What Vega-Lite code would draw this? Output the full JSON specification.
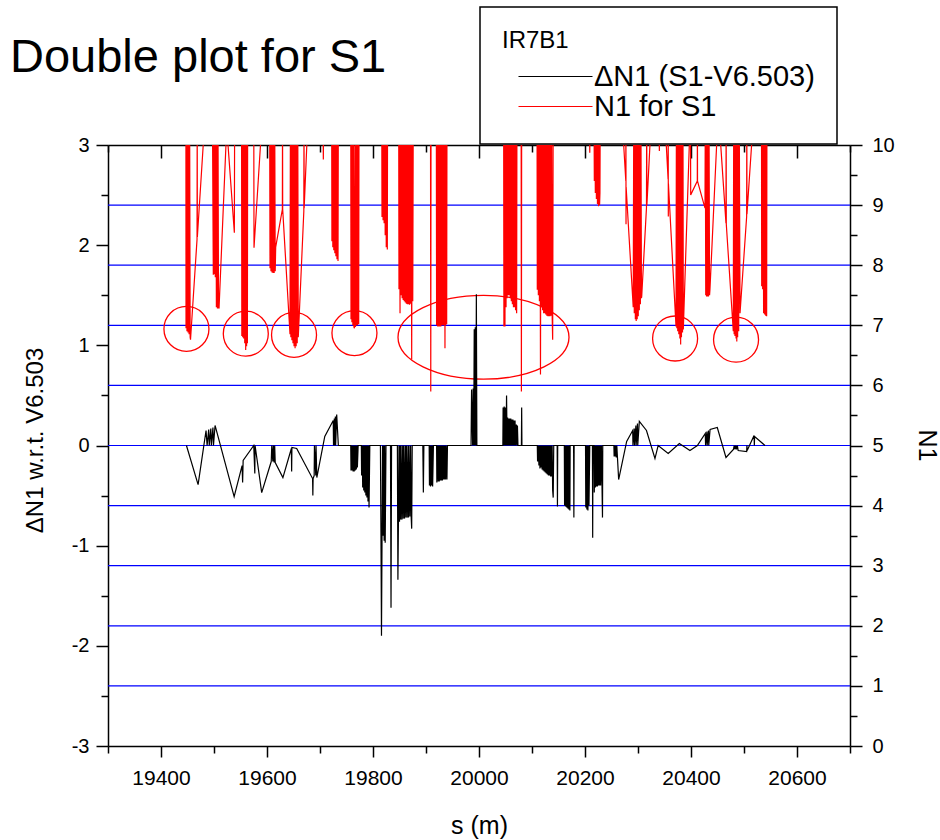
{
  "$schema": "https://vega.github.io/schema/vega-lite/v6.json",
  "width": 742,
  "height": 601,
  "autosize": {"type": "none"},
  "padding": {"left": 108, "top": 145, "right": 90, "bottom": 94},
  "background": "white",
  "title": {"text": "Double plot for S1", "anchor": "start", "frame": "group", "orient": "top", "offset": 0, "dx": -98, "dy": 113, "baseline": "alphabetic", "fontSize": 47, "fontWeight": "normal", "font": "Liberation Sans", "color": "black"},
  "datasets": {
    "gridlines": [{"n": 1}, {"n": 2}, {"n": 3}, {"n": 4}, {"n": 5}, {"n": 6}, {"n": 7}, {"n": 8}, {"n": 9}],
    "circles": [{"s": 19448, "n": 6.94}, {"s": 19560, "n": 6.86}, {"s": 19651, "n": 6.84}, {"s": 19765, "n": 6.87}, {"s": 20370, "n": 6.78}, {"s": 20485, "n": 6.76}],
    "ellipse": [{"s": 20008.5, "n": 6.8}],
    "black": [
      {"s":19448,"v":0},{"s":19470,"v":-0.39},{"s":19485,"v":0.15},{"s":19487,"v":0},{"s":19490,"v":0.16},{"s":19491,"v":0},{"s":19494,"v":0.17},{"s":19495,"v":0},{"s":19498,"v":0.18},{"s":19499,"v":0},{"s":19502,"v":0.2},
      {"s":19538,"v":-0.51},{"s":19553,"v":-0.2},{"s":19554,"v":-0.37},{"s":19555,"v":-0.15},{"s":19575,"v":0},{"s":19577,"v":-0.28},{"s":19577.5,"v":0},{"s":19590,"v":-0.47},
      {"s":19608,"v":-0.16},{"s":19609,"v":0},{"s":19611,"v":-0.16},{"s":19612,"v":0},{"s":19613.5,"v":-0.17},{"s":19614.5,"v":0},{"s":19615.5,"v":-0.17},{"s":19630,"v":-0.32},
      {"s":19646,"v":-0.03},{"s":19646.5,"v":-0.26},{"s":19647,"v":-0.02},{"s":19656,"v":-0.03},{"s":19686,"v":-0.33},{"s":19686.5,"v":-0.5},{"s":19687,"v":-0.33},{"s":19689,"v":-0.3},{"s":19689.5,"v":0},{"s":19692,"v":-0.3},{"s":19692.5,"v":0},{"s":19694,"v":-0.32},
      {"s":19709,"v":0.09},{"s":19725,"v":0.25},{"s":19725.5,"v":0},{"s":19727,"v":0.27},{"s":19727.5,"v":0},{"s":19729,"v":0.29},{"s":19729.5,"v":0},{"s":19731.5,"v":0.31},{"s":19734.6,"v":0},
      {"s":19758,"v":0},{"s":19758.5,"v":-0.25},{"s":19760,"v":0},{"s":19760.5,"v":-0.25},{"s":19762,"v":0},{"s":19762.5,"v":-0.26},{"s":19764,"v":0},{"s":19764.5,"v":-0.26},{"s":19766,"v":0},{"s":19766.5,"v":-0.25},{"s":19768,"v":0},{"s":19768.5,"v":-0.24},{"s":19770,"v":0},{"s":19770.5,"v":-0.22},{"s":19772,"v":0},
      {"s":19778,"v":0},{"s":19778.5,"v":-0.3},{"s":19780,"v":0},{"s":19780.5,"v":-0.42},{"s":19782,"v":0},{"s":19782.5,"v":-0.45},{"s":19784,"v":0},{"s":19784.5,"v":-0.47},{"s":19786,"v":0},{"s":19786.5,"v":-0.5},{"s":19788,"v":0},{"s":19788.5,"v":-0.52},{"s":19790,"v":0},{"s":19790.5,"v":-0.56},{"s":19792,"v":0},{"s":19792.5,"v":-0.62},{"s":19794,"v":0},
      {"s":19814,"v":0},{"s":19815,"v":-0.87},{"s":19816,"v":-1.9},{"s":19817,"v":-0.95},{"s":19818,"v":0},{"s":19819,"v":-0.9},{"s":19820,"v":0},{"s":19821,"v":-0.95},{"s":19822,"v":0},{"s":19823,"v":-0.97},{"s":19824.5,"v":0},
      {"s":19833,"v":0},{"s":19834,"v":-1.62},{"s":19835,"v":0},
      {"s":19846,"v":0},{"s":19847,"v":-1.34},{"s":19848,"v":-0.75},{"s":19849,"v":0},{"s":19850,"v":-0.76},{"s":19851,"v":0},{"s":19852,"v":-0.74},{"s":19853,"v":0},{"s":19854.5,"v":-0.74},{"s":19856,"v":0},{"s":19857,"v":-0.73},{"s":19858,"v":0},{"s":19859.5,"v":-0.73},{"s":19861,"v":0},{"s":19862,"v":-0.72},{"s":19863,"v":0},{"s":19864.5,"v":-0.72},{"s":19866,"v":0},{"s":19867,"v":-0.72},{"s":19868,"v":0},{"s":19869.5,"v":-0.71},{"s":19871,"v":0},{"s":19872,"v":-0.71},{"s":19873,"v":-0.83},{"s":19874,"v":0},
      {"s":19894,"v":0},{"s":19895,"v":-0.47},{"s":19896,"v":0},
      {"s":19906,"v":0},{"s":19906.5,"v":-0.4},{"s":19908,"v":0},{"s":19908.5,"v":-0.41},{"s":19910,"v":0},{"s":19910.5,"v":-0.4},{"s":19912,"v":0},{"s":19912.5,"v":-0.41},{"s":19914,"v":0},
      {"s":19920,"v":0},{"s":19920.5,"v":-0.37},{"s":19922,"v":0},{"s":19923,"v":-0.36},{"s":19924,"v":0},{"s":19925,"v":-0.36},{"s":19926,"v":0},{"s":19927,"v":-0.35},{"s":19928,"v":0},{"s":19929,"v":-0.35},{"s":19930,"v":0},{"s":19931,"v":-0.35},{"s":19932,"v":0},{"s":19933,"v":-0.34},{"s":19934,"v":0},{"s":19935,"v":-0.34},{"s":19936,"v":0},{"s":19937,"v":-0.34},{"s":19938,"v":0},{"s":19939.5,"v":-0.34},{"s":19940.5,"v":0},
      {"s":19985,"v":0},{"s":19986,"v":0.56},{"s":19988,"v":0},{"s":19989,"v":0.57},{"s":19990,"v":0},{"s":19991,"v":1.16},{"s":19992,"v":0},{"s":19993,"v":1.18},{"s":19994,"v":0},{"s":19995,"v":1.51},{"s":19996,"v":0},
      {"s":20045,"v":0},{"s":20045.5,"v":0.38},{"s":20047,"v":0},{"s":20047.5,"v":0.39},{"s":20049,"v":0},{"s":20049.5,"v":0.38},{"s":20051,"v":0},{"s":20052,"v":0.5},{"s":20053,"v":0},{"s":20054,"v":0.28},{"s":20055,"v":0},{"s":20056,"v":0.27},{"s":20057,"v":0},{"s":20058,"v":0.27},{"s":20059,"v":0},{"s":20060,"v":0.27},{"s":20061,"v":0},{"s":20062,"v":0.26},{"s":20063,"v":0},{"s":20064,"v":0.26},{"s":20065,"v":0},{"s":20066,"v":0.25},{"s":20067,"v":0},{"s":20068,"v":0.25},{"s":20069,"v":0},{"s":20070.5,"v":0.21},{"s":20071.5,"v":0},{"s":20072.5,"v":0.2},{"s":20073.5,"v":0},{"s":20080,"v":0},{"s":20080.5,"v":0.38},{"s":20081,"v":0},
      {"s":20110,"v":0},{"s":20110.5,"v":-0.16},{"s":20112,"v":0},{"s":20113,"v":-0.2},{"s":20114,"v":0},{"s":20115,"v":-0.23},{"s":20116,"v":0},{"s":20117,"v":-0.22},{"s":20118,"v":0},{"s":20119,"v":-0.24},{"s":20120,"v":0},{"s":20121,"v":-0.25},{"s":20122,"v":0},{"s":20123,"v":-0.26},{"s":20124,"v":0},{"s":20125,"v":-0.27},{"s":20126,"v":0},{"s":20127,"v":-0.28},{"s":20128,"v":0},{"s":20129,"v":-0.29},{"s":20130,"v":0},{"s":20131,"v":-0.3},{"s":20132,"v":0},{"s":20133,"v":-0.3},{"s":20134,"v":0},{"s":20135,"v":-0.31},{"s":20136,"v":0},{"s":20137,"v":-0.31},{"s":20138,"v":0},{"s":20139,"v":-0.45},{"s":20140,"v":-0.52},{"s":20141,"v":0},
      {"s":20147.5,"v":0},{"s":20148,"v":-0.61},{"s":20148.5,"v":0},
      {"s":20161,"v":0},{"s":20161.5,"v":-0.6},{"s":20163,"v":0},{"s":20163.5,"v":-0.61},{"s":20165,"v":0},{"s":20165.5,"v":-0.62},{"s":20167,"v":0},{"s":20167.5,"v":-0.63},{"s":20169,"v":0},{"s":20169.5,"v":-0.64},{"s":20171,"v":0},{"s":20171.5,"v":-0.65},{"s":20172,"v":0},
      {"s":20178.5,"v":0},{"s":20179,"v":-0.72},{"s":20179.5,"v":0},
      {"s":20201,"v":0},{"s":20201.5,"v":-0.62},{"s":20203,"v":0},{"s":20203.5,"v":-0.64},{"s":20205,"v":0},{"s":20205.5,"v":-0.65},{"s":20207,"v":0},{"s":20207.5,"v":-0.6},{"s":20209,"v":0},
      {"s":20214,"v":0},{"s":20214.5,"v":-0.92},{"s":20215,"v":0},
      {"s":20217,"v":0},{"s":20217.5,"v":-0.47},{"s":20219,"v":0},{"s":20219.5,"v":-0.42},{"s":20221,"v":0},{"s":20221.5,"v":-0.41},{"s":20223,"v":0},{"s":20223.5,"v":-0.41},{"s":20225,"v":0},{"s":20225.5,"v":-0.4},{"s":20227,"v":0},{"s":20227.5,"v":-0.4},{"s":20229,"v":0},{"s":20229.5,"v":-0.4},{"s":20231,"v":0},{"s":20233,"v":-0.72},{"s":20233.5,"v":0},
      {"s":20254.5,"v":0},{"s":20255,"v":-0.11},{"s":20256,"v":0},{"s":20257,"v":-0.11},{"s":20258,"v":0},{"s":20259,"v":-0.12},{"s":20260,"v":0},{"s":20263.5,"v":-0.34},{"s":20278.6,"v":0.04},
      {"s":20290,"v":0.15},{"s":20290.5,"v":0},{"s":20293,"v":0.17},{"s":20293.5,"v":0},{"s":20296,"v":0.2},{"s":20296.5,"v":0},{"s":20299,"v":0.22},{"s":20299.5,"v":0},{"s":20302.5,"v":0.24},
      {"s":20316,"v":0.15},{"s":20332,"v":-0.13},{"s":20338,"v":0},{"s":20357,"v":-0.08},{"s":20378,"v":0.02},{"s":20398,"v":-0.05},{"s":20412,"v":0},
      {"s":20427,"v":0.12},{"s":20427.5,"v":0},{"s":20430,"v":0.14},{"s":20430.5,"v":0},{"s":20433,"v":0.15},{"s":20433.5,"v":0},{"s":20436,"v":0.16},{"s":20449.6,"v":0.18},
      {"s":20466,"v":-0.12},{"s":20480,"v":-0.04},{"s":20481.5,"v":0},{"s":20483,"v":-0.04},{"s":20484.5,"v":0},{"s":20486,"v":-0.04},{"s":20487.5,"v":0},{"s":20489,"v":-0.05},
      {"s":20505,"v":-0.06},{"s":20505.5,"v":0},{"s":20506,"v":-0.05},{"s":20519,"v":0.1},{"s":20519.5,"v":0},{"s":20520,"v":0.09},{"s":20539.6,"v":0}
    ],
    "red": [
      {"s":19440,"n":10.6},{"s":19447,"n":10.6},{"s":19447.2,"n":6.95},{"s":19448,"n":10.6},{"s":19449,"n":6.9},{"s":19450,"n":10.6},{"s":19451,"n":6.88},{"s":19452,"n":10.6},{"s":19453,"n":6.85},{"s":19454,"n":10.6},{"s":19455,"n":6.8},{"s":19455.7,"n":6.76},
      {"s":19468,"n":8.43},{"s":19468.3,"n":10.6},{"s":19468.6,"n":8.47},{"s":19484,"n":10.6},
      {"s":19497,"n":10.6},{"s":19498.7,"n":7.84},{"s":19499.5,"n":10.6},{"s":19500.5,"n":7.85},{"s":19501.5,"n":10.6},{"s":19502.5,"n":7.8},{"s":19503.5,"n":10.6},{"s":19504.5,"n":7.3},{"s":19505.5,"n":10.6},{"s":19506.5,"n":7.28},{"s":19507.5,"n":10.6},{"s":19508.5,"n":7.3},{"s":19509.5,"n":7.28},
      {"s":19524,"n":10.3},{"s":19538.4,"n":8.54},{"s":19539,"n":10.6},
      {"s":19552,"n":10.6},{"s":19552.5,"n":6.82},{"s":19553.3,"n":10.6},{"s":19554.2,"n":6.8},{"s":19555,"n":10.6},{"s":19556,"n":6.78},{"s":19557,"n":10.6},{"s":19558,"n":6.7},{"s":19559,"n":10.6},{"s":19559.8,"n":6.59},{"s":19560.6,"n":10.6},{"s":19561.5,"n":6.65},{"s":19562.4,"n":10.6},{"s":19563,"n":6.7},{"s":19563.5,"n":10.6},
      {"s":19575,"n":10.6},{"s":19575.5,"n":8.29},{"s":19592,"n":10.6},
      {"s":19605,"n":10.6},{"s":19605.7,"n":7.95},{"s":19606.5,"n":10.6},{"s":19607.5,"n":7.9},{"s":19608.5,"n":10.6},{"s":19609.5,"n":7.88},{"s":19610.5,"n":10.6},{"s":19611.5,"n":7.87},{"s":19612.5,"n":10.6},{"s":19613.5,"n":7.87},{"s":19614.5,"n":10.6},{"s":19615.5,"n":7.9},{"s":19616.4,"n":8.3},
      {"s":19629,"n":8.93},{"s":19629.3,"n":10.6},{"s":19629.6,"n":8.93},
      {"s":19643.4,"n":6.85},{"s":19644.2,"n":10.6},{"s":19645,"n":6.8},{"s":19646,"n":10.6},{"s":19647,"n":6.75},{"s":19648,"n":10.6},{"s":19649,"n":6.7},{"s":19650,"n":10.6},{"s":19651,"n":6.65},{"s":19652,"n":10.6},{"s":19653,"n":6.62},{"s":19654,"n":10.6},{"s":19655,"n":6.65},{"s":19656,"n":10.6},{"s":19657,"n":6.7},{"s":19658,"n":10.6},{"s":19659,"n":6.8},
      {"s":19669.5,"n":8.9},{"s":19669.8,"n":10.6},{"s":19670.1,"n":8.95},{"s":19678,"n":10.6},
      {"s":19705.5,"n":10.6},{"s":19706.3,"n":9.76},{"s":19707,"n":10.6},
      {"s":19722,"n":10.6},{"s":19722.5,"n":8.4},{"s":19723.3,"n":10.6},{"s":19724.2,"n":8.3},{"s":19725,"n":10.6},{"s":19726,"n":8.25},{"s":19727,"n":10.6},{"s":19728,"n":8.2},{"s":19729,"n":10.6},{"s":19730,"n":8.15},{"s":19731,"n":10.6},{"s":19732,"n":8.1},{"s":19733,"n":10.6},{"s":19734,"n":8.07},{"s":19734.6,"n":10.6},
      {"s":19758,"n":10.6},{"s":19758.5,"n":7.1},{"s":19759.3,"n":10.6},{"s":19760.2,"n":7.05},{"s":19761,"n":10.6},{"s":19762,"n":7.0},{"s":19763,"n":10.6},{"s":19764,"n":6.97},{"s":19765,"n":6.95},{"s":19766,"n":10.6},{"s":19767,"n":6.97},{"s":19768,"n":10.6},{"s":19769,"n":7.0},{"s":19770,"n":10.6},{"s":19771,"n":7.0},{"s":19772,"n":10.6},{"s":19773,"n":7.02},{"s":19773.6,"n":10.6},
      {"s":19816.5,"n":10.6},{"s":19817,"n":8.8},{"s":19818,"n":10.6},{"s":19819,"n":8.75},{"s":19820,"n":10.6},{"s":19821,"n":8.7},{"s":19822,"n":10.6},{"s":19823,"n":8.5},{"s":19824,"n":10.6},{"s":19825,"n":8.3},{"s":19826,"n":10.6},{"s":19827,"n":8.26},{"s":19827.5,"n":10.6},
      {"s":19848.5,"n":10.6},{"s":19849,"n":7.6},{"s":19850,"n":10.6},{"s":19851,"n":7.2},{"s":19852,"n":10.6},{"s":19853,"n":7.5},{"s":19854,"n":10.6},{"s":19855,"n":7.45},{"s":19856,"n":10.6},{"s":19857,"n":7.42},{"s":19858,"n":10.6},{"s":19859,"n":7.4},{"s":19860,"n":10.6},{"s":19861,"n":7.38},{"s":19862,"n":10.6},{"s":19863,"n":7.36},{"s":19864,"n":10.6},{"s":19865,"n":7.35},{"s":19866,"n":10.6},{"s":19867,"n":7.35},{"s":19868,"n":10.6},{"s":19869,"n":7.34},{"s":19870,"n":10.6},{"s":19871,"n":7.36},{"s":19872,"n":10.6},{"s":19873,"n":6.43},{"s":19874,"n":10.6},{"s":19875,"n":7.4},{"s":19876,"n":10.6},
      {"s":19908.5,"n":10.6},{"s":19909,"n":5.9},{"s":19909.5,"n":10.6},
      {"s":19919.5,"n":10.6},{"s":19920,"n":7.0},{"s":19921,"n":10.6},{"s":19922,"n":6.98},{"s":19923,"n":10.6},{"s":19924,"n":6.98},{"s":19925,"n":10.6},{"s":19926,"n":6.98},{"s":19927,"n":10.6},{"s":19928,"n":6.98},{"s":19929,"n":10.6},{"s":19930,"n":7.0},{"s":19931,"n":10.6},{"s":19932,"n":7.0},{"s":19933,"n":10.6},{"s":19934,"n":7.0},{"s":19935,"n":10.6},{"s":19935.8,"n":6.62},{"s":19936.6,"n":10.6},{"s":19937.5,"n":7.0},{"s":19938.3,"n":10.6},{"s":19939,"n":7.02},{"s":19939.6,"n":10.6},
      {"s":20046.5,"n":10.6},{"s":20047,"n":6.98},{"s":20048,"n":10.6},{"s":20049,"n":6.98},{"s":20050,"n":10.6},{"s":20051,"n":7.3},{"s":20052,"n":10.6},{"s":20053,"n":7.45},{"s":20054,"n":10.6},{"s":20055,"n":7.5},{"s":20056,"n":10.6},{"s":20057,"n":7.5},{"s":20058,"n":10.6},{"s":20059,"n":7.45},{"s":20060,"n":10.6},{"s":20061,"n":7.4},{"s":20062,"n":10.6},{"s":20063,"n":7.35},{"s":20064,"n":10.6},{"s":20065,"n":7.3},{"s":20066,"n":10.6},{"s":20067,"n":7.3},{"s":20068,"n":10.6},{"s":20069,"n":7.25},{"s":20070,"n":10.6},{"s":20071,"n":7.2},{"s":20071.6,"n":10.6},
      {"s":20079.5,"n":10.6},{"s":20080,"n":5.9},{"s":20080.5,"n":10.6},
      {"s":20109.5,"n":10.6},{"s":20110,"n":7.59},{"s":20111,"n":10.6},{"s":20112,"n":7.5},{"s":20113,"n":10.6},{"s":20114,"n":7.4},{"s":20115,"n":10.6},{"s":20116,"n":6.18},{"s":20117,"n":10.6},{"s":20118,"n":7.3},{"s":20119,"n":10.6},{"s":20120,"n":7.25},{"s":20121,"n":10.6},{"s":20122,"n":7.2},{"s":20123,"n":10.6},{"s":20124,"n":7.2},{"s":20125,"n":10.6},{"s":20126,"n":7.18},{"s":20127,"n":10.6},{"s":20128,"n":7.16},{"s":20129,"n":10.6},{"s":20130,"n":7.15},{"s":20131,"n":10.6},{"s":20132,"n":7.15},{"s":20133,"n":10.6},{"s":20134,"n":7.15},{"s":20135,"n":10.6},{"s":20136,"n":7.16},{"s":20137,"n":10.6},{"s":20138,"n":7.18},{"s":20139,"n":6.76},{"s":20140,"n":10.6},
      {"s":20208.5,"n":10.6},{"s":20209,"n":9.87},{"s":20209.5,"n":10.6},
      {"s":20217,"n":10.6},{"s":20217.6,"n":9.4},{"s":20218.5,"n":10.6},{"s":20219.5,"n":9.2},{"s":20220.5,"n":10.6},{"s":20221.5,"n":9.1},{"s":20222.5,"n":10.6},{"s":20223.5,"n":9.02},{"s":20224.5,"n":10.6},{"s":20225.5,"n":8.98},{"s":20226.5,"n":10.6},{"s":20227.5,"n":9.0},{"s":20228.2,"n":9.2},{"s":20228.8,"n":10.6},
      {"s":20269,"n":10.6},{"s":20277,"n":9.4},{"s":20277.2,"n":10.6},{"s":20277.4,"n":8.68},{"s":20277.6,"n":9.3},{"s":20291,"n":7.3},{"s":20292,"n":10.6},{"s":20293,"n":7.2},{"s":20294,"n":10.6},{"s":20295,"n":7.1},{"s":20296,"n":10.6},{"s":20296.6,"n":7.07},{"s":20297.5,"n":10.6},{"s":20298.5,"n":7.1},{"s":20299.5,"n":10.6},{"s":20300.5,"n":7.15},{"s":20301.5,"n":10.6},{"s":20302.5,"n":7.25},{"s":20303.5,"n":10.6},{"s":20304.5,"n":7.35},{"s":20305.5,"n":10.6},{"s":20306.5,"n":7.45},{"s":20307,"n":7.48},
      {"s":20316,"n":8.96},{"s":20316.4,"n":10.6},{"s":20316.8,"n":9.0},{"s":20326,"n":10.6},
      {"s":20339.8,"n":10.6},{"s":20340.3,"n":9.9},{"s":20340.8,"n":10.6},
      {"s":20349.7,"n":10.6},{"s":20356.8,"n":9.43},{"s":20357,"n":10.6},{"s":20357.2,"n":8.81},{"s":20357.4,"n":9.36},
      {"s":20371.7,"n":6.98},{"s":20372.5,"n":10.6},{"s":20373.3,"n":6.95},{"s":20374.1,"n":10.6},{"s":20375,"n":6.9},{"s":20376,"n":10.6},{"s":20377,"n":6.85},{"s":20378,"n":10.6},{"s":20379,"n":6.78},{"s":20380,"n":10.6},{"s":20380.5,"n":6.68},{"s":20381.2,"n":10.6},{"s":20382,"n":6.8},{"s":20383,"n":10.6},{"s":20384,"n":6.88},{"s":20384.8,"n":10.6},{"s":20385.5,"n":6.93},
      {"s":20399,"n":10.6},{"s":20399.4,"n":9.17},{"s":20411.9,"n":9.4},{"s":20412.1,"n":10.6},{"s":20412.3,"n":9.4},{"s":20426.4,"n":8.95},
      {"s":20427,"n":10.6},{"s":20427.8,"n":7.5},{"s":20428.6,"n":10.6},{"s":20429.4,"n":7.48},{"s":20430.2,"n":10.6},{"s":20431,"n":7.48},{"s":20432,"n":10.6},{"s":20433,"n":7.48},{"s":20434,"n":10.6},{"s":20435,"n":7.5},{"s":20435.8,"n":7.6},
      {"s":20451.5,"n":10.6},{"s":20466,"n":8.7},{"s":20466.3,"n":10.6},{"s":20466.6,"n":8.68},
      {"s":20479.8,"n":6.9},{"s":20480.6,"n":10.6},{"s":20481.4,"n":6.85},{"s":20482.2,"n":10.6},{"s":20483,"n":6.82},{"s":20484,"n":10.6},{"s":20485,"n":6.78},{"s":20486,"n":10.6},{"s":20486.4,"n":6.73},{"s":20487.2,"n":10.6},{"s":20488,"n":6.8},{"s":20489,"n":10.6},{"s":20490,"n":6.9},{"s":20491,"n":10.6},{"s":20492.5,"n":7.2},
      {"s":20505,"n":8.81},{"s":20505.3,"n":10.6},{"s":20505.6,"n":8.85},{"s":20518.9,"n":10.6},
      {"s":20533,"n":10.6},{"s":20533.4,"n":7.65},{"s":20534.3,"n":10.6},{"s":20535.2,"n":7.6},{"s":20536,"n":10.6},{"s":20537,"n":7.2},{"s":20538,"n":10.6},{"s":20539,"n":7.18},{"s":20540,"n":10.6},{"s":20541,"n":7.16},{"s":20542,"n":10.6},{"s":20542.7,"n":7.15},{"s":20543.3,"n":10.6},{"s":20560,"n":10.6}
    ]
  },
  "layer": [
    {
      "data": {"name": "gridlines"},
      "mark": {"type": "rule", "color": "#0000ff", "strokeWidth": 1.2},
      "encoding": {
        "y": {"field": "n", "type": "quantitative", "scale": {"domain": [0, 10], "nice": false, "zero": false}, "axis": null}
      }
    },
    {
      "data": {"name": "red"},
      "mark": {"type": "line", "clip": true, "strokeWidth": 1.2},
      "encoding": {
        "x": {"field": "s", "type": "quantitative", "scale": {"domain": [19300, 20700], "nice": false, "zero": false},
              "axis": {"orient": "top", "values": [19400,19600,19800,20000,20200,20400,20600], "tickSize": -13, "labels": false, "title": null, "domain": true}},
        "y": {"field": "n", "type": "quantitative", "scale": {"domain": [0, 10], "nice": false, "zero": false},
              "axis": {"orient": "right", "values": [0,1,2,3,4,5,6,7,8,9,10], "tickSize": 12, "labelPadding": 10, "labelFontSize": 20, "title": "N1", "titleX": 68, "titleY": 300, "titleAngle": 90, "titleBaseline": "alphabetic", "titleAlign": "center"}},
        "color": {"datum": "N1 for S1", "type": "nominal", "scale": {"domain": ["ΔN1 (S1-V6.503)", "N1 for S1"], "range": ["black", "red"]},
                  "legend": {"title": "IR7B1", "symbolType": "M -3.7 0 L 3.7 0", "symbolSize": 400, "symbolStrokeWidth": 1.2, "symbolOffset": 39, "labelOffset": 24}}
      }
    },
    {
      "data": {"name": "circles"},
      "mark": {"type": "point", "shape": "circle", "size": 2025, "filled": false, "stroke": "red", "strokeWidth": 1.3, "opacity": 1},
      "encoding": {
        "x": {"field": "s", "type": "quantitative", "scale": {"domain": [19300, 20700], "nice": false, "zero": false}, "axis": null},
        "y": {"field": "n", "type": "quantitative", "scale": {"domain": [0, 10], "nice": false, "zero": false}, "axis": null}
      }
    },
    {
      "data": {"name": "ellipse"},
      "mark": {"type": "point", "shape": "M -1 0 C -1 -0.2706 -0.5523 -0.49 0 -0.49 C 0.5523 -0.49 1 -0.2706 1 0 C 1 0.2706 0.5523 0.49 0 0.49 C -0.5523 0.49 -1 0.2706 -1 0 Z", "size": 29241, "filled": false, "stroke": "red", "strokeWidth": 1.3, "opacity": 1},
      "encoding": {
        "x": {"field": "s", "type": "quantitative", "scale": {"domain": [19300, 20700], "nice": false, "zero": false}, "axis": null},
        "y": {"field": "n", "type": "quantitative", "scale": {"domain": [0, 10], "nice": false, "zero": false}, "axis": null}
      }
    },
    {
      "data": {"name": "black"},
      "mark": {"type": "line", "clip": true, "strokeWidth": 1.2},
      "encoding": {
        "x": {"field": "s", "type": "quantitative", "scale": {"domain": [19300, 20700], "nice": false, "zero": false},
              "axis": {"orient": "bottom", "values": [19400,19600,19800,20000,20200,20400,20600], "format": "d", "tickSize": 11, "labelPadding": 10, "labelFontSize": 21, "title": "s (m)", "titleY": 87, "titleBaseline": "alphabetic"}},
        "y": {"field": "v", "type": "quantitative", "scale": {"domain": [-3, 3], "nice": false, "zero": false},
              "axis": {"orient": "left", "values": [-3,-2,-1,0,1,2,3], "labelExpr": "datum.value < 0 ? '-' + abs(datum.value) : '' + datum.value", "tickSize": 12, "labelPadding": 7, "labelFontSize": 20, "title": "ΔN1 w.r.t. V6.503", "titleFontSize": 24, "titleX": -66, "titleY": 295, "titleAngle": -90, "titleBaseline": "alphabetic", "titleAlign": "center"}},
        "color": {"datum": "ΔN1 (S1-V6.503)", "type": "nominal", "scale": {"domain": ["ΔN1 (S1-V6.503)", "N1 for S1"], "range": ["black", "red"]},
                  "legend": {"title": "IR7B1", "symbolType": "M -3.7 0 L 3.7 0", "symbolSize": 400, "symbolStrokeWidth": 1.2, "symbolOffset": 39, "labelOffset": 24}}
      }
    },
    {
      "data": {"name": "circles"},
      "mark": {"type": "point", "opacity": 0},
      "encoding": {
        "x": {"field": "s", "type": "quantitative", "scale": {"domain": [19300, 20700], "nice": false, "zero": false},
              "axis": {"orient": "bottom", "values": [19300,19500,19700,19900,20100,20300,20500,20700], "tickSize": 7, "labels": false, "domain": false, "title": null}},
        "y": {"field": "n", "type": "quantitative", "scale": {"domain": [0, 10], "nice": false, "zero": false},
              "axis": {"orient": "left", "values": [0.833,2.5,4.167,5.833,7.5,9.167], "tickSize": 7, "labels": false, "domain": false, "title": null}}
      }
    },
    {
      "data": {"name": "circles"},
      "mark": {"type": "point", "opacity": 0},
      "encoding": {
        "x": {"field": "s", "type": "quantitative", "scale": {"domain": [19300, 20700], "nice": false, "zero": false},
              "axis": {"orient": "top", "values": [19300,19500,19700,19900,20100,20300,20500,20700], "tickSize": -7, "labels": false, "domain": false, "title": null}},
        "y": {"field": "n", "type": "quantitative", "scale": {"domain": [0, 10], "nice": false, "zero": false},
              "axis": {"orient": "right", "values": [0.5,1.5,2.5,3.5,4.5,5.5,6.5,7.5,8.5,9.5], "tickSize": 7, "labels": false, "domain": false, "title": null}}
      }
    }
  ],
  "resolve": {"scale": {"y": "independent"}, "axis": {"x": "independent", "y": "independent"}},
  "config": {
    "font": "Liberation Sans",
    "view": {"stroke": null},
    "axis": {"grid": false, "domainColor": "black", "tickColor": "black", "labelColor": "black", "titleColor": "black", "domainWidth": 1.5, "tickWidth": 1.5, "labelFont": "Liberation Sans", "titleFont": "Liberation Sans", "titleFontSize": 25, "titleFontWeight": "normal", "zindex": 1, "labelFlush": false, "labelOverlap": false},
    "legend": {"orient": "none", "legendX": 372, "legendY": -138, "strokeColor": "black", "strokeWidth": 1.5, "fillColor": "white", "padding": 22, "titleFont": "Liberation Sans", "titleFontSize": 24, "titleFontWeight": "normal", "titleColor": "black", "titlePadding": 9, "labelFont": "Liberation Sans", "labelFontSize": 29, "labelColor": "black", "rowPadding": 0, "labelLimit": 400}
  }
}
